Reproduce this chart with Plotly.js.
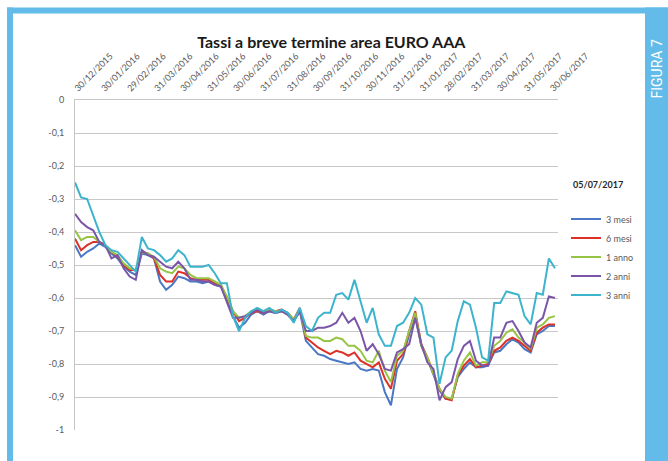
<!DOCTYPE html>
<html>
<head>
<meta charset="utf-8">
<script src="https://cdn.plot.ly/plotly-3.0.1.min.js"></script>
<style>html,body{margin:0;padding:0;background:#fff;}#chart{width:668px;height:461px;}</style>
</head>
<body>
<div id="chart"></div>
<script>
// Weekly observation dates
var dates = [
'2015-12-30',
'2016-01-06','2016-01-13','2016-01-20','2016-01-27',
'2016-02-03','2016-02-10','2016-02-17','2016-02-24',
'2016-03-02','2016-03-09','2016-03-16','2016-03-23','2016-03-30',
'2016-04-06','2016-04-13','2016-04-20','2016-04-27',
'2016-05-04','2016-05-11','2016-05-18','2016-05-25',
'2016-06-01','2016-06-08','2016-06-15','2016-06-22','2016-06-29',
'2016-07-06','2016-07-13','2016-07-20','2016-07-27',
'2016-08-03','2016-08-10','2016-08-17','2016-08-24','2016-08-31',
'2016-09-07','2016-09-14','2016-09-21','2016-09-28',
'2016-10-05','2016-10-12','2016-10-19','2016-10-26',
'2016-11-02','2016-11-09','2016-11-16','2016-11-23','2016-11-30',
'2016-12-07','2016-12-14','2016-12-21','2016-12-28',
'2017-01-04','2017-01-11','2017-01-18','2017-01-25',
'2017-02-01','2017-02-08','2017-02-15','2017-02-22',
'2017-03-01','2017-03-08','2017-03-15','2017-03-22','2017-03-29',
'2017-04-05','2017-04-12','2017-04-19','2017-04-26',
'2017-05-03','2017-05-10','2017-05-17','2017-05-24','2017-05-31',
'2017-06-07','2017-06-14','2017-06-21','2017-06-28',
'2017-07-05'
];

var mesi3 = [
-0.44,-0.475,-0.46,-0.45,-0.435,-0.445,-0.465,-0.48,-0.505,-0.52,
-0.53,-0.465,-0.47,-0.48,-0.55,-0.575,-0.56,-0.535,-0.54,-0.55,
-0.55,-0.555,-0.55,-0.56,-0.565,-0.605,-0.655,-0.69,-0.675,-0.65,
-0.64,-0.65,-0.64,-0.645,-0.64,-0.65,-0.67,-0.64,-0.73,-0.75,
-0.77,-0.775,-0.785,-0.79,-0.795,-0.80,-0.795,-0.815,-0.82,-0.815,
-0.82,-0.885,-0.925,-0.815,-0.78,-0.71,-0.655,-0.745,-0.785,-0.83,
-0.88,-0.905,-0.905,-0.84,-0.815,-0.795,-0.81,-0.81,-0.805,-0.765,
-0.76,-0.74,-0.725,-0.735,-0.755,-0.765,-0.71,-0.70,-0.685,-0.685
];
var mesi6 = [
-0.42,-0.455,-0.44,-0.43,-0.43,-0.44,-0.46,-0.475,-0.50,-0.515,
-0.515,-0.46,-0.465,-0.48,-0.53,-0.55,-0.55,-0.52,-0.525,-0.54,
-0.545,-0.545,-0.545,-0.555,-0.56,-0.60,-0.64,-0.67,-0.66,-0.645,
-0.64,-0.645,-0.635,-0.64,-0.635,-0.645,-0.665,-0.63,-0.72,-0.735,
-0.75,-0.76,-0.77,-0.76,-0.765,-0.775,-0.765,-0.79,-0.80,-0.81,
-0.795,-0.845,-0.875,-0.79,-0.77,-0.70,-0.64,-0.74,-0.78,-0.825,
-0.875,-0.905,-0.91,-0.835,-0.805,-0.785,-0.81,-0.805,-0.80,-0.76,
-0.75,-0.73,-0.72,-0.73,-0.745,-0.76,-0.705,-0.69,-0.68,-0.68
];
var anno1 = [
-0.395,-0.425,-0.415,-0.415,-0.43,-0.44,-0.46,-0.47,-0.495,-0.51,
-0.515,-0.46,-0.465,-0.475,-0.51,-0.52,-0.525,-0.505,-0.51,-0.53,
-0.54,-0.54,-0.54,-0.55,-0.56,-0.595,-0.64,-0.66,-0.655,-0.64,
-0.635,-0.64,-0.635,-0.64,-0.64,-0.645,-0.665,-0.635,-0.715,-0.72,
-0.72,-0.73,-0.73,-0.72,-0.725,-0.745,-0.745,-0.76,-0.79,-0.795,
-0.76,-0.82,-0.855,-0.775,-0.76,-0.70,-0.645,-0.745,-0.78,-0.83,
-0.875,-0.90,-0.905,-0.83,-0.79,-0.765,-0.805,-0.795,-0.795,-0.745,
-0.73,-0.705,-0.695,-0.72,-0.735,-0.755,-0.69,-0.68,-0.66,-0.655
];
var anni2 = [
-0.345,-0.37,-0.385,-0.395,-0.43,-0.44,-0.48,-0.47,-0.51,-0.535,
-0.545,-0.455,-0.47,-0.475,-0.49,-0.505,-0.51,-0.49,-0.51,-0.545,
-0.545,-0.55,-0.55,-0.56,-0.565,-0.61,-0.66,-0.66,-0.655,-0.645,
-0.635,-0.645,-0.64,-0.645,-0.64,-0.65,-0.67,-0.64,-0.70,-0.70,
-0.69,-0.69,-0.685,-0.675,-0.645,-0.675,-0.66,-0.70,-0.76,-0.74,
-0.77,-0.815,-0.82,-0.765,-0.755,-0.74,-0.66,-0.74,-0.795,-0.815,
-0.91,-0.87,-0.855,-0.785,-0.745,-0.73,-0.79,-0.805,-0.805,-0.72,
-0.72,-0.675,-0.67,-0.70,-0.735,-0.75,-0.675,-0.66,-0.595,-0.60
];
var anni3 = [
-0.25,-0.295,-0.30,-0.35,-0.40,-0.44,-0.455,-0.46,-0.48,-0.50,
-0.52,-0.415,-0.45,-0.455,-0.47,-0.49,-0.48,-0.455,-0.47,-0.505,
-0.505,-0.505,-0.50,-0.525,-0.555,-0.555,-0.655,-0.70,-0.66,-0.64,
-0.63,-0.64,-0.63,-0.645,-0.635,-0.645,-0.675,-0.63,-0.685,-0.70,
-0.66,-0.645,-0.645,-0.59,-0.585,-0.605,-0.545,-0.61,-0.675,-0.63,
-0.71,-0.745,-0.745,-0.685,-0.675,-0.645,-0.60,-0.62,-0.71,-0.72,
-0.86,-0.78,-0.76,-0.67,-0.61,-0.62,-0.69,-0.78,-0.79,-0.615,
-0.615,-0.58,-0.585,-0.59,-0.655,-0.68,-0.585,-0.59,-0.48,-0.51
];

var seriesNames = ['3 mesi','6 mesi','1 anno','2 anni','3 anni'];
var seriesColors = ['#4a78c4','#dc3128','#96c444','#7b55a8','#3db4cd'];
var seriesValues = [mesi3, mesi6, anno1, anni2, anni3];

var xTickVals = ['2015-12-30','2016-01-30','2016-02-29','2016-03-31','2016-04-30','2016-05-31','2016-06-30','2016-07-31','2016-08-31','2016-09-30','2016-10-31','2016-11-30','2016-12-31','2017-01-31','2017-02-28','2017-03-31','2017-04-30','2017-05-31','2017-06-30'];
var xTickText = ['30/12/2015','30/01/2016','29/02/2016','31/03/2016','30/04/2016','31/05/2016','30/06/2016','31/07/2016','31/08/2016','30/09/2016','31/10/2016','30/11/2016','31/12/2016','31/01/2017','28/02/2017','31/03/2017','30/04/2017','31/05/2017','30/06/2017'];
var yTickVals = [0,-0.1,-0.2,-0.3,-0.4,-0.5,-0.6,-0.7,-0.8,-0.9,-1];
var yTickText = ['0','-0,1','-0,2','-0,3','-0,4','-0,5','-0,6','-0,7','-0,8','-0,9','-1'];

var chartTitle = 'Tassi a breve termine area EURO AAA';
var legendDate = '05/07/2017';
var figLabel = 'FIGURA 7';

var traces = seriesNames.map(function(n, i){
  return {x: dates, y: seriesValues[i], type: 'scatter', mode: 'lines', name: n,
    line: {color: seriesColors[i], width: 2}};
});

// pixel -> paper helpers (plot area 75..558 x 99.5..429.5)
function px(x){ return (x-75)/483; }
function py(y){ return (429.5-y)/330; }
var blue = '#62bbe8';
var tickFont = {family: 'Lato, "Open Sans", sans-serif', size: 9, color: '#595959'};

var layout = {
  width: 668, height: 461,
  margin: {l: 75, r: 110, t: 100, b: 31, pad: 0},
  paper_bgcolor: '#ffffff', plot_bgcolor: '#ffffff',
  title: {text: chartTitle, x: 0.496, xanchor: 'center', y: 1 - 42/461, yanchor: 'middle',
    font: {family: 'Lato, sans-serif', size: 16, color: '#1a1a1a', weight: 'bold'}},
  xaxis: {type: 'date', side: 'top', range: ['2015-12-30', '2017-07-08 12:00'],
    tickvals: xTickVals, ticktext: xTickText, tickangle: -45, tickfont: tickFont,
    showgrid: false, showline: true, linecolor: '#c6c6c6', linewidth: 1, ticks: '', zeroline: false,
    ticklabelstandoff: 2},
  yaxis: {range: [-1, 0], tickvals: yTickVals, ticktext: yTickText, tickfont: tickFont,
    showgrid: true, gridcolor: '#c8c8c8', gridwidth: 1, showline: true, linecolor: '#c6c6c6',
    zeroline: false, ticks: '', ticklabelstandoff: 8},
  showlegend: true,
  legend: {x: px(566), xanchor: 'left', y: py(204), yanchor: 'top', bgcolor: 'rgba(0,0,0,0)',
    font: {family: 'Lato, sans-serif', size: 9, color: '#595959'}, tracegroupgap: 0},
  annotations: [
    {text: legendDate, xref: 'paper', yref: 'paper', x: px(598), y: py(184), xanchor: 'center', yanchor: 'middle',
     showarrow: false, font: {family: 'Lato, sans-serif', size: 9, color: '#262626', weight: 'bold'}},
    {text: figLabel, xref: 'paper', yref: 'paper', x: px(657), y: py(69), xanchor: 'center', yanchor: 'middle',
     textangle: -90, showarrow: false, font: {family: 'Roboto, sans-serif', size: 14, color: '#ffffff'}}
  ],
  shapes: [
    {type: 'rect', xref: 'paper', yref: 'paper', x0: px(7), x1: px(668), y0: py(13), y1: py(7), fillcolor: blue, line: {width: 0}, layer: 'below'},
    {type: 'rect', xref: 'paper', yref: 'paper', x0: px(7), x1: px(13), y0: py(461), y1: py(7), fillcolor: blue, line: {width: 0}, layer: 'below'},
    {type: 'rect', xref: 'paper', yref: 'paper', x0: px(645), x1: px(668), y0: py(461), y1: py(7), fillcolor: blue, line: {width: 0}, layer: 'below'}
  ]
};

Plotly.newPlot('chart', traces, layout, {displayModeBar: false, staticPlot: true});
</script>
</body>
</html>
